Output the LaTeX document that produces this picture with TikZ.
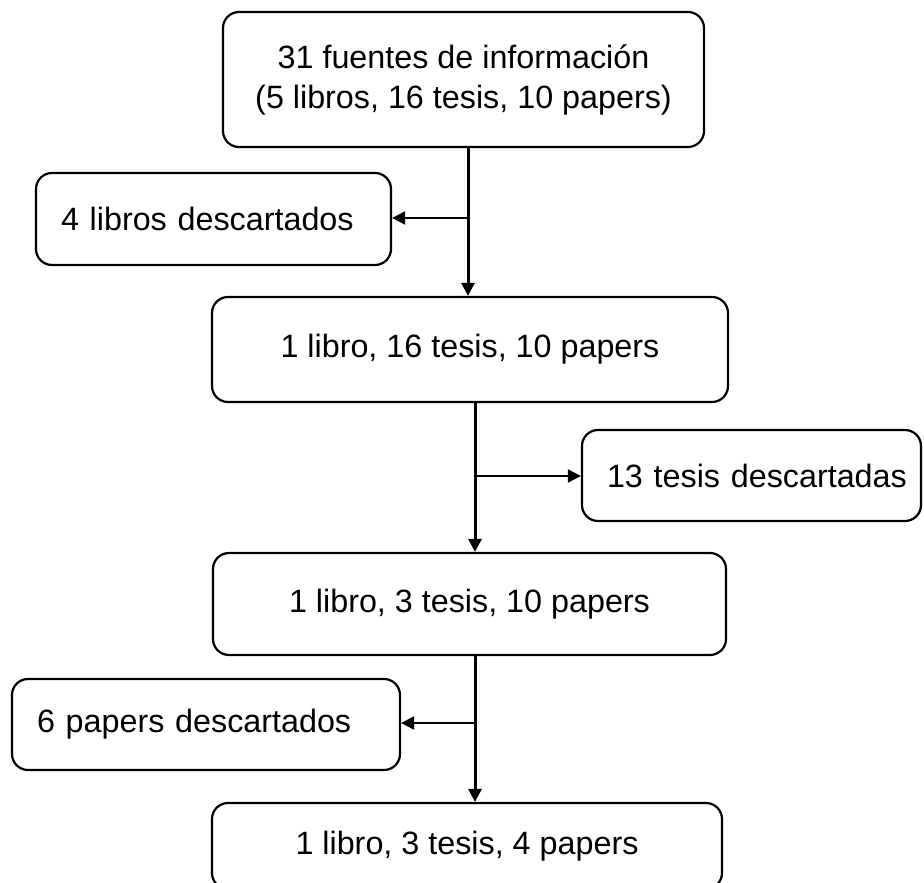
\documentclass[tikz,border=0pt]{standalone}
\usepackage{fontspec}
\setmainfont{Liberation Sans}
\usetikzlibrary{arrows.meta}
\begin{document}
\begin{tikzpicture}[x=1pt,y=-1pt,
  every node/.style={font=\fontsize{32.3}{40}\selectfont},
  mainbox/.style={draw, line width=2.2pt, rounded corners=16pt, inner sep=0pt, align=center},
  sidebox/.style={draw, line width=2.2pt, rounded corners=16pt, inner ysep=0pt, inner xsep=25pt, align=left},
  mainarrow/.style={line width=3pt, -{Triangle[length=13pt,width=13pt]}},
  sidearrow/.style={line width=2pt, -{Triangle[length=13pt,width=13pt]}}]
\useasboundingbox (0,0) rectangle (924,883);
\node[mainbox, minimum width=481pt, minimum height=135pt] (b1) at (463.5,79.5)
  {31 fuentes de información\\(5 libros, 16 tesis, 10 papers)};
\node[sidebox, text width=305pt, minimum height=92pt] (d1) at (213.5,219) {\mbox{4 libros descartados}};
\node[mainbox, minimum width=516pt, minimum height=105pt] (b2) at (470,349.5) {1 libro, 16 tesis, 10 papers};
\node[sidebox, text width=289pt, minimum height=91pt] (d2) at (751.5,475.5) {\mbox{13 tesis descartadas}};
\node[mainbox, minimum width=513pt, minimum height=102pt] (b3) at (469.5,604) {1 libro, 3 tesis, 10 papers};
\node[sidebox, text width=338pt, minimum height=91pt] (d3) at (206,724.5) {\mbox{6 papers descartados}};
\node[mainbox, minimum width=510pt, minimum height=86pt] (b4) at (467,846) {1 libro, 3 tesis, 4 papers};
\coordinate (j1) at (468,218);
\coordinate (j2) at (475,476);
\coordinate (j3) at (475,723);
\draw[mainarrow] (j1 |- b1.south) -- (j1 |- b2.north);
\draw[sidearrow] (j1) -- (d1.east |- j1);
\draw[mainarrow] (j2 |- b2.south) -- (j2 |- b3.north);
\draw[sidearrow] (j2) -- (d2.west |- j2);
\draw[mainarrow] (j3 |- b3.south) -- (j3 |- b4.north);
\draw[sidearrow] (j3) -- (d3.east |- j3);
\end{tikzpicture}
\end{document}
